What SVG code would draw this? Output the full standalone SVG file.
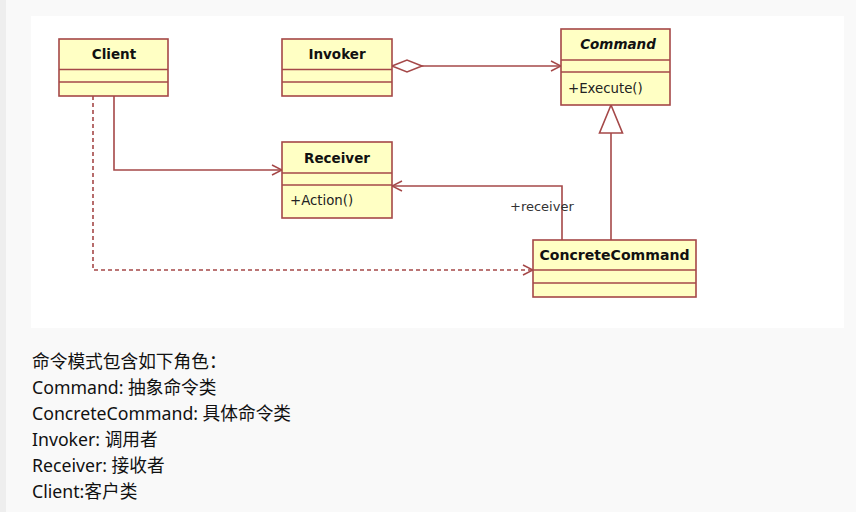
<svg xmlns="http://www.w3.org/2000/svg" width="856" height="512" viewBox="0 0 856 512">
<style>
.box{fill:#ffffc4;stroke:#a54848;stroke-width:1.6}
.sep{stroke:#a54848;stroke-width:1.6}
.name{font-family:"DejaVu Sans",Verdana,sans-serif;font-weight:bold;font-size:13.5px;fill:#111;text-anchor:middle}
.op{font-family:"DejaVu Sans",Verdana,sans-serif;font-size:13.3px;fill:#222}
.ln{fill:none;stroke:#a54848;stroke-width:1.6}
.txt{font-family:"Noto Sans","Noto Sans CJK SC",sans-serif;font-size:17.7px;fill:#111}
</style>
<defs>
<marker id="open" viewBox="0 0 12 12" refX="11" refY="6" markerWidth="12" markerHeight="12" markerUnits="userSpaceOnUse" orient="auto">
<path d="M1,1 L11,6 L1,11" fill="none" stroke="#a54848" stroke-width="1.5"/>
</marker>
</defs>
<rect x="0" y="0" width="856" height="512" fill="#f9f9f9"/>
<rect x="0" y="0" width="6" height="512" fill="#eeeeee"/>
<rect x="31" y="16" width="813" height="312" fill="#ffffff"/>

<g id="connectors">
<path class="ln" d="M422,66 L561,66" marker-end="url(#open)"/>
<path d="M392,66 L407,60 L422,66 L407,72 Z" fill="#ffffff" stroke="#a54848" stroke-width="1.6"/>
<path class="ln" d="M114,96 L114,170 L282,170" marker-end="url(#open)"/>
<path class="ln" d="M562,240 L562,186 L392,186" marker-end="url(#open)"/>
<path class="ln" d="M611,240 L611,133"/>
<path d="M611,105 L622.5,133 L599.5,133 Z" fill="#ffffff" stroke="#a54848" stroke-width="1.6"/>
<path class="ln" d="M93,96 L93,270 L533,270" stroke-dasharray="4,3" marker-end="url(#open)"/>
<text x="510" y="211" class="op" style="fill:#333;font-size:13px">+receiver</text>
</g>

<g id="client">
<rect class="box" x="59" y="39" width="109" height="57"/>
<line class="sep" x1="59" y1="69.5" x2="168" y2="69.5"/>
<line class="sep" x1="59" y1="82" x2="168" y2="82"/>
<text class="name" x="114" y="59">Client</text>
</g>

<g id="invoker">
<rect class="box" x="282" y="39" width="110" height="57"/>
<line class="sep" x1="282" y1="69.5" x2="392" y2="69.5"/>
<line class="sep" x1="282" y1="82" x2="392" y2="82"/>
<text class="name" x="337" y="59">Invoker</text>
</g>

<g id="receiver">
<rect class="box" x="282" y="142" width="110" height="76"/>
<line class="sep" x1="282" y1="173" x2="392" y2="173"/>
<line class="sep" x1="282" y1="185" x2="392" y2="185"/>
<text class="name" x="337" y="163">Receiver</text>
<text class="op" x="290" y="205">+Action()</text>
</g>

<g id="command">
<rect class="box" x="561" y="29" width="109" height="76"/>
<line class="sep" x1="561" y1="60" x2="670" y2="60"/>
<line class="sep" x1="561" y1="72" x2="670" y2="72"/>
<text class="name" x="618" y="49" font-style="italic">Command</text>
<text class="op" x="568" y="93">+Execute()</text>
</g>

<g id="concretecommand">
<rect class="box" x="533" y="240" width="163" height="57"/>
<line class="sep" x1="533" y1="270" x2="696" y2="270"/>
<line class="sep" x1="533" y1="283" x2="696" y2="283"/>
<text class="name" x="614.5" y="260" textLength="150" lengthAdjust="spacingAndGlyphs">ConcreteCommand</text>
</g>

<g id="description">
<text class="txt" x="32" y="368">命令模式包含如下角色：</text>
<text class="txt" x="32" y="394">Command: 抽象命令类</text>
<text class="txt" x="32" y="420">ConcreteCommand: 具体命令类</text>
<text class="txt" x="32" y="446">Invoker: 调用者</text>
<text class="txt" x="32" y="472">Receiver: 接收者</text>
<text class="txt" x="32" y="498">Client:客户类</text>
</g>
</svg>
